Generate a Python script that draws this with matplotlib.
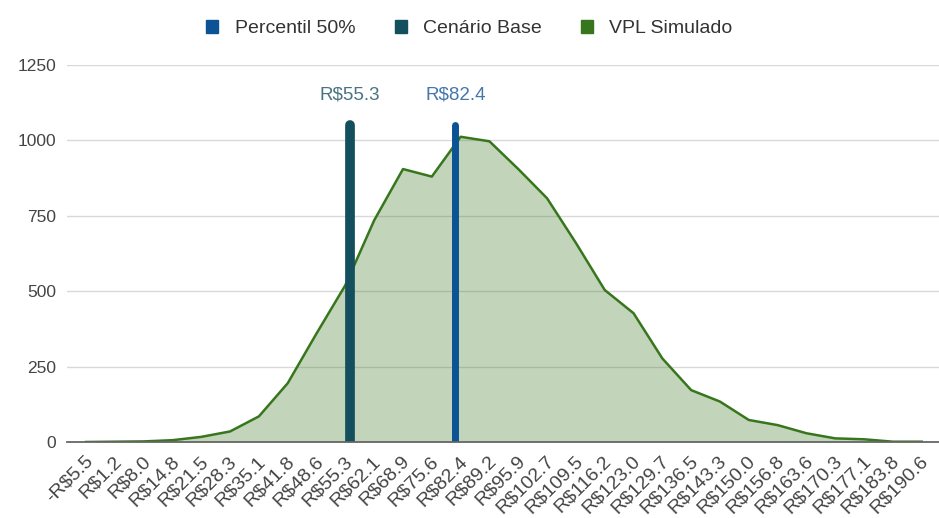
import matplotlib.pyplot as plt
import matplotlib.transforms as mtransforms
from matplotlib.patches import Patch

plt.rcParams['font.family'] = ['Liberation Sans', 'DejaVu Sans']

# faixas de VPL (R$ mi) e frequencia simulada
categories = ["-R$5.5", "R$1.2", "R$8.0", "R$14.8", "R$21.5", "R$28.3", "R$35.1", "R$41.8",
              "R$48.6", "R$55.3", "R$62.1", "R$68.9", "R$75.6", "R$82.4", "R$89.2", "R$95.9",
              "R$102.7", "R$109.5", "R$116.2", "R$123.0", "R$129.7", "R$136.5", "R$143.3",
              "R$150.0", "R$156.8", "R$163.6", "R$170.3", "R$177.1", "R$183.8", "R$190.6"]
vpl_simulado = [0, 1, 2, 6, 17, 35, 85, 195, 360, 520, 735, 905, 880, 1012, 997, 905,
                808, 660, 504, 427, 277, 172, 134, 73, 56, 29, 12, 9, 1, 1]

cenario_base = "R$55.3"
percentil_50 = "R$82.4"
marker_height = 1050
y_ticks = [0, 250, 500, 750, 1000, 1250]

c_line = "#38761d"
c_cen = "#134f5c"
c_p50 = "#0b5394"

fig = plt.figure(figsize=(9.39, 5.18), dpi=100)
ax = fig.add_axes([67 / 939, 1 - 442 / 518, 872 / 939, 377 / 518])

x = list(range(len(categories)))
ax.fill_between(x, vpl_simulado, color=c_line, alpha=0.3, lw=0, zorder=2)
ax.plot(x, vpl_simulado, color=c_line, lw=1.8, zorder=3)

# marcadores verticais (cenario base e percentil 50)
xc = categories.index(cenario_base) + 0.15
xp = categories.index(percentil_50) - 0.18
ax.plot([xc, xc], [-100, marker_height], color=c_cen, lw=7, solid_capstyle='round', zorder=4)
ax.plot([xp, xp], [-100, marker_height], color=c_p50, lw=5, solid_capstyle='round', zorder=4)
ax.annotate(cenario_base, (xc, marker_height), xytext=(0, 16), textcoords="offset points",
            ha='center', va='bottom', fontsize=13.5, color="#4a7381")
ax.annotate(percentil_50, (xp, marker_height), xytext=(0, 16), textcoords="offset points",
            ha='center', va='bottom', fontsize=13.5, color="#4577aa")

ax.set_ylim(0, 1250)
ax.set_xlim(-0.66, 29.6)
ax.set_yticks(y_ticks)
ax.set_xticks(x)
ax.set_xticklabels(categories, rotation=45, ha='right', va='center', rotation_mode='anchor')
ax.tick_params(axis='both', length=0, colors="#444444")
ax.tick_params(axis='x', pad=12, labelsize=14)
ax.tick_params(axis='y', pad=8, labelsize=12.5)
shift = mtransforms.ScaledTranslation(4 / 100, 0, fig.dpi_scale_trans)
for lbl in ax.get_xticklabels():
    lbl.set_transform(lbl.get_transform() + shift)
ax.grid(axis='y', color="#d9d9d9", lw=1)
ax.set_axisbelow(True)
for s in ['top', 'right', 'left']:
    ax.spines[s].set_visible(False)
ax.spines['bottom'].set_color("#666666")
ax.spines['bottom'].set_linewidth(1.3)
ax.spines['bottom'].set_zorder(5)

handles = [Patch(color=c_p50), Patch(color=c_cen), Patch(color=c_line)]
fig.legend(handles, ["Percentil 50%", "Cenário Base", "VPL Simulado"], loc='upper center',
           bbox_to_anchor=(0.5, 0.995), ncol=3, frameon=False, fontsize=14,
           handlelength=0.62, handleheight=0.62, handletextpad=0.85, columnspacing=2.0,
           labelcolor="#333333")

fig.savefig("out.png", dpi=100)
